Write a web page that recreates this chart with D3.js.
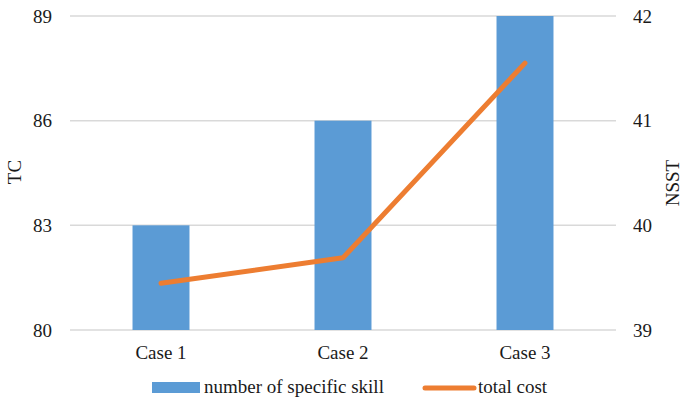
<!DOCTYPE html>
<html>
<head>
<meta charset="utf-8">
<script src="https://cdn.jsdelivr.net/npm/d3@7"></script>
<style>
  html, body { margin: 0; padding: 0; background: #fff; }
  svg { display: block; }
  svg text { font-family: "Liberation Serif", Tinos, "Times New Roman", Times, "DejaVu Serif", serif !important; }
</style>
</head>
<body>
<svg id="chart" width="681" height="400"></svg>
<script>
// Chart data
const categories = ["Case 1", "Case 2", "Case 3"];
const skillCounts = [40, 41, 42];            // number of specific skill (right axis, NSST)
const totalCosts = [81.34, 82.07, 87.65];     // total cost (left axis, TC)
const leftTicks = [80, 83, 86, 89];
const rightTicks = [39, 40, 41, 42];

const svg = d3.select("#chart");
const margin = { left: 70, right: 65, top: 16, bottom: 70 };
const W = 681, H = 400;
const x0 = margin.left, x1 = W - margin.right;
const y0 = H - margin.bottom, y1 = margin.top;

const x = d3.scaleBand().domain(categories).range([x0, x1]).paddingInner(0.687).paddingOuter(0.3435);
const yL = d3.scaleLinear().domain([80, 89]).range([y0, y1]);
const yR = d3.scaleLinear().domain([39, 42]).range([y0, y1]);

const blue = "#5B9BD5", orange = "#ED7D31", ink = "#1a1a1a";

// Gridlines
svg.append("g").selectAll("line").data(leftTicks).join("line")
  .attr("x1", x0).attr("x2", x1)
  .attr("y1", d => yL(d)).attr("y2", d => yL(d))
  .attr("stroke", "#D9D9D9").attr("stroke-width", 1.5);

// Bars on the right axis
svg.append("g").selectAll("rect").data(categories).join("rect")
  .attr("x", d => x(d)).attr("width", x.bandwidth())
  .attr("y", (d, i) => yR(skillCounts[i]))
  .attr("height", (d, i) => yR(39) - yR(skillCounts[i]))
  .attr("fill", blue);

// Line on the left axis
const line = d3.line()
  .x((d, i) => x(categories[i]) + x.bandwidth() / 2)
  .y(d => yL(d));
svg.append("path").datum(totalCosts)
  .attr("d", line).attr("fill", "none")
  .attr("stroke", orange).attr("stroke-width", 5)
  .attr("stroke-linecap", "round").attr("stroke-linejoin", "round");

function styleAxis(g) {
  g.select(".domain").remove();
  g.attr("font-family", null);
  g.selectAll("text").attr("font-size", 19).attr("fill", ink);
}

// Left axis
svg.append("g").attr("transform", `translate(${x0},0)`)
  .call(d3.axisLeft(yL).tickValues(leftTicks).tickFormat(d3.format("d")).tickSize(0).tickPadding(18))
  .call(styleAxis);

// Right axis
svg.append("g").attr("transform", `translate(${x1},0)`)
  .call(d3.axisRight(yR).tickValues(rightTicks).tickFormat(d3.format("d")).tickSize(0).tickPadding(17))
  .call(styleAxis);

// Category axis
svg.append("g").attr("transform", `translate(0,${y0})`)
  .call(d3.axisBottom(x).tickSize(0).tickPadding(16))
  .call(styleAxis);

// Axis titles
svg.append("text").attr("transform", "translate(21,172) rotate(-90)")
  .attr("text-anchor", "middle").attr("font-size", 19).attr("fill", ink).text("TC");
svg.append("text").attr("transform", "translate(678.5,183) rotate(-90)")
  .attr("text-anchor", "middle").attr("font-size", 19).attr("fill", ink).text("NSST");

// Legend
const lg = svg.append("g");
lg.append("rect").attr("x", 152).attr("y", 382).attr("width", 48).attr("height", 11).attr("fill", blue);
lg.append("text").attr("x", 204).attr("y", 393).attr("font-size", 19).attr("fill", ink).text("number of specific skill");
lg.append("line").attr("x1", 425).attr("x2", 474).attr("y1", 388).attr("y2", 388)
  .attr("stroke", orange).attr("stroke-width", 5).attr("stroke-linecap", "round");
lg.append("text").attr("x", 478).attr("y", 393).attr("font-size", 19).attr("fill", ink).text("total cost");
</script>
</body>
</html>
